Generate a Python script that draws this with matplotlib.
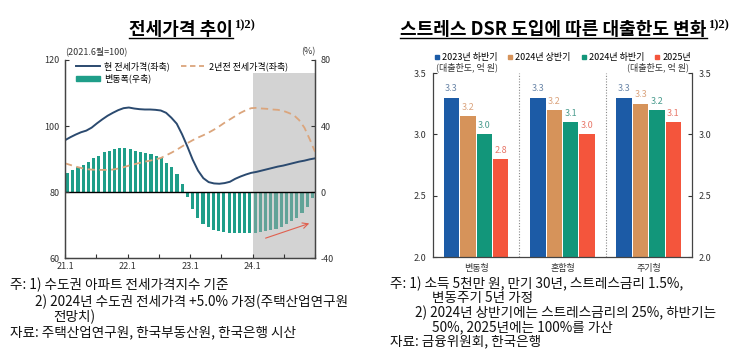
import numpy as np
import matplotlib
matplotlib.use('Agg')
import matplotlib.pyplot as plt
from matplotlib.lines import Line2D
from matplotlib.patches import Patch

plt.rcParams['font.family'] = ['Noto Sans CJK KR', 'DejaVu Sans']
plt.rcParams['axes.unicode_minus'] = False

# ---- left chart data (monthly, 2021.1 ~ 2024.12) ----
current_jeonse = [95.7, 96.6, 97.4, 98.1, 98.6, 99.5, 100.8, 102.0, 103.1, 104.0, 104.8, 105.4,
                  105.6, 105.3, 105.1, 105.0, 105.0, 104.9, 104.7, 104.0, 102.5, 100.7, 97.5, 93.8,
                  89.8, 86.5, 84.2, 83.0, 82.6, 82.5, 82.7, 83.1, 84.0, 84.7, 85.3, 85.8,
                  86.1, 86.5, 86.9, 87.3, 87.7, 88.0, 88.4, 88.8, 89.2, 89.5, 89.9, 90.2]
prev2y_jeonse = [88.7, 88.2, 87.7, 87.3, 86.9, 86.8, 86.7, 86.7, 86.7, 86.8, 87.1, 87.5,
                 88.0, 88.4, 88.8, 89.2, 89.5, 89.9, 90.3, 91.1, 91.9, 92.8, 93.8, 94.8,
                 95.7, 96.5, 97.2, 98.0, 98.9, 99.9, 101.0, 102.0, 103.0, 104.0, 104.8, 105.4,
                 105.5, 105.3, 105.2, 105.0, 104.9, 104.6, 104.0, 103.3, 101.8, 99.5, 96.0, 92.2]
change = [11.8, 13.4, 15.0, 16.4, 18.4, 20.4, 22.0, 24.0, 25.0, 26.0, 26.6, 26.6,
          25.8, 25.0, 24.0, 23.4, 22.8, 21.8, 20.4, 17.8, 15.0, 11.0, 4.8, -3.0,
          -10.2, -15.6, -19.2, -21.4, -22.8, -23.8, -24.4, -24.8, -25.0, -25.0, -25.0, -24.8,
          -24.6, -24.2, -23.6, -23.0, -22.2, -21.0, -19.6, -17.8, -15.6, -12.6, -9.0, -3.6]
year_labels = ['21.1', '22.1', '23.1', '24.1']
forecast_start = 36  # 2024.1

# ---- right chart data ----
groups = ['변동형', '혼합형', '주기형']
series_names = ['2023년 하반기', '2024년 상반기', '2024년 하반기', '2025년']
limit_2023h2 = [3.30, 3.30, 3.30]
limit_2024h1 = [3.15, 3.20, 3.25]
limit_2024h2 = [3.00, 3.10, 3.20]
limit_2025 = [2.80, 3.00, 3.10]

TEAL = '#1f9e89'
TEAL_SHADE = '#62a398'
NAVY = '#2b4a6f'
TAN = '#dba57c'

fig = plt.figure(figsize=(7.49, 3.61), dpi=100)

# ================= left chart =================
ax1 = fig.add_axes([0.0868, 0.2853, 0.3338, 0.5485])
ax2 = ax1.twinx()
ax1.set_zorder(ax2.get_zorder() + 1)
ax1.patch.set_visible(False)

n = len(change)
x_bar = np.arange(n) + 0.5
x_line = np.linspace(0, n, len(current_jeonse))
bar_colors = [TEAL if i < forecast_start else TEAL_SHADE for i in range(n)]

ax2.axvspan(forecast_start, n, ymin=0, ymax=0.934, color='#d3d3d3', lw=0, zorder=1)
ax2.bar(x_bar, change, width=0.6, color=bar_colors, zorder=2)
ax2.axhline(0, color='black', lw=1.0, zorder=4)
ax2.annotate('', xy=(47.4, -18.5), xytext=(38.0, -28.5),
             arrowprops=dict(arrowstyle='->', color='#e0604f', lw=0.8), zorder=5)

ax1.plot(x_line, current_jeonse, color=NAVY, lw=1.4)
ax1.plot(x_line, prev2y_jeonse, color=TAN, lw=1.3, ls=(0, (4, 2.5)))

ax1.set_xlim(0, n)
ax1.set_ylim(60, 120)
ax2.set_ylim(-40, 80)
ax1.set_yticks([60, 80, 100, 120])
ax2.set_yticks([-40, 0, 40, 80])
ticks = list(range(0, n + 1, 6))
tick_labels = []
for t in ticks:
    tick_labels.append(year_labels[t // 12] if t % 12 == 0 and t // 12 < len(year_labels) else '')
ax1.set_xticks(ticks)
ax1.set_xticklabels(tick_labels)

for a in (ax1, ax2):
    a.spines['top'].set_visible(False)
    a.tick_params(direction='in', length=3, width=0.8, labelsize=6.5, colors='#333333', pad=4)
    for s in a.spines.values():
        s.set_linewidth(0.9)
        s.set_color('#444444')
ax1.tick_params(axis='x', pad=3)

ax1.text(0.0, 1.018, '(2021.6월=100)', transform=ax1.transAxes, ha='left', va='bottom',
         fontsize=6.5, color='#333333')
ax1.text(1.0, 1.018, '(%)', transform=ax1.transAxes, ha='right', va='bottom',
         fontsize=6.5, color='#333333')

handles = [Line2D([], [], color=NAVY, lw=1.4),
           Patch(color=TEAL),
           Line2D([], [], color=TAN, lw=1.3, ls=(0, (3, 2)))]
names = ['현 전세가격(좌축)', '변동폭(우축)', '2년전 전세가격(좌축)']
ax1.legend(handles, names, ncol=2, loc='upper left', bbox_to_anchor=(0.04, 1.0),
           frameon=False, fontsize=6.5, handlelength=2.6, handleheight=0.6,
           columnspacing=1.2, labelspacing=0.3, borderpad=0.15, borderaxespad=0,
           handletextpad=0.5)

# ================= right chart =================
ax3 = fig.add_axes([0.578, 0.288, 0.3458, 0.5097])
series = [limit_2023h2, limit_2024h1, limit_2024h2, limit_2025]
colors = ['#1c5ba6', '#d6935a', '#12967a', '#f4553c']
label_colors = ['#6a86a8', '#dba47e', '#4a9c8e', '#e8786a']
xg = np.arange(len(groups))
w = 0.19
for k, vals in enumerate(series):
    xs = xg + (k - 1.5) * w
    ax3.bar(xs, vals, width=w * 0.94, color=colors[k], zorder=2)
    for xx, v in zip(xs, vals):
        ax3.text(xx, v + 0.035, f'{v + 1e-9:.1f}', ha='center', va='bottom',
                 fontsize=6.5, color=label_colors[k])

for sep in (0.5, 1.5):
    ax3.axvline(sep, color='#888888', ls=(0, (1, 1.5)), lw=0.8, zorder=1)

ax3.set_xlim(-0.5, len(groups) - 0.5)
ax3.set_ylim(2.0, 3.5)
ax3.set_yticks([2.0, 2.5, 3.0, 3.5])
ax3.set_yticklabels([f'{v:.1f}' for v in [2.0, 2.5, 3.0, 3.5]])
ax3.set_xticks(xg)
ax3.set_xticklabels(groups)
ax3.spines['top'].set_visible(False)
for s in ax3.spines.values():
    s.set_linewidth(0.9)
    s.set_color('#444444')
ax3.tick_params(axis='y', direction='in', length=3, width=0.8, labelsize=6.5,
                colors='#333333', left=True, right=True, labelleft=True, labelright=True, pad=5)
ax3.tick_params(axis='x', length=0, labelsize=6.5, colors='#333333', pad=5)

ax3.text(0.01, 1.006, '(대출한도, 억 원)', transform=ax3.transAxes, ha='left', va='bottom',
         fontsize=6.5, color='#333333')
ax3.text(0.99, 1.006, '(대출한도, 억 원)', transform=ax3.transAxes, ha='right', va='bottom',
         fontsize=6.5, color='#333333')

leg_handles = [Line2D([], [], marker='s', ls='none', color=c, markersize=3.5) for c in colors]
ax3.legend(leg_handles, series_names, loc='lower center', bbox_to_anchor=(0.5, 1.05), ncol=4,
           frameon=False, fontsize=6.5, handlelength=0.7, handletextpad=0.2,
           columnspacing=1.1, borderaxespad=0, borderpad=0.2)


# ================= titles =================
def title_with_note(xc, yc, text):
    t = fig.text(xc, yc, text, ha='center', va='center', fontsize=13, fontweight='bold')
    fig.canvas.draw()
    bb = t.get_window_extent().transformed(fig.transFigure.inverted())
    fig.add_artist(Line2D([bb.x0, bb.x1], [bb.y0 + 0.004, bb.y0 + 0.004], color='black',
                          lw=1.0, transform=fig.transFigure))
    fig.text(bb.x1 + 0.002, bb.y1 + 0.004, '1)2)', ha='left', va='top', fontsize=9,
             fontweight='bold', family='Liberation Serif')


title_with_note(0.2417, 0.917, '전세가격 추이')
title_with_note(0.739, 0.917, '스트레스 DSR 도입에 따른 대출한도 변화')

# ================= footnotes =================
H = 361.0
W = 749.0
notes = [
    (10, 285, '주: 1) 수도권 아파트 전세가격지수 기준'),
    (35, 302, '2) 2024년 수도권 전세가격 +5.0% 가정(주택산업연구원'),
    (53, 317, '전망치)'),
    (10, 332, '자료: 주택산업연구원, 한국부동산원, 한국은행 시산'),
    (390, 284, '주: 1) 소득 5천만 원, 만기 30년, 스트레스금리 1.5%,'),
    (432, 298, '변동주기 5년 가정'),
    (415, 313, '2) 2024년 상반기에는 스트레스금리의 25%, 하반기는'),
    (432, 327, '50%, 2025년에는 100%를 가산'),
    (390, 341, '자료: 금융위원회, 한국은행'),
]
for x, y, s in notes:
    fig.text(x / W, 1 - y / H, s, ha='left', va='center', fontsize=9.8, color='#111111')

fig.savefig('out.png', dpi=100)
